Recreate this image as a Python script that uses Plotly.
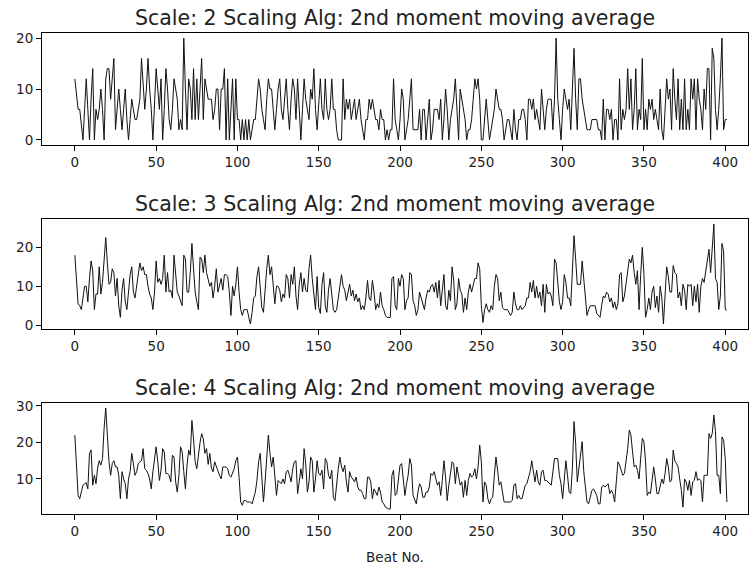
import plotly.graph_objects as go

# ---- data ----
scale2 = [
    12, 9, 6, 6, 3, 0, 6, 12, 6, 0,
    8, 14, 0, 6, 4, 6, 10, 6, 0, 12,
    14, 14, 8, 12, 16, 2, 6, 10, 6, 2,
    6, 10, 4, 0, 4, 8, 6, 4, 4, 6,
    8, 16, 10, 6, 10, 16, 10, 6, 0, 6,
    14, 10, 6, 12, 0, 6, 14, 10, 4, 2,
    6, 12, 10, 8, 2, 4, 2, 20, 10, 2,
    12, 10, 4, 14, 4, 12, 4, 10, 16, 4,
    12, 10, 8, 8, 8, 4, 6, 10, 10, 2,
    10, 10, 14, 0, 12, 0, 6, 12, 0, 12,
    4, 4, 0, 4, 0, 4, 0, 4, 0, 2,
    4, 4, 8, 12, 10, 6, 4, 2, 8, 12,
    10, 10, 6, 2, 6, 10, 12, 6, 4, 8,
    12, 6, 2, 8, 12, 10, 4, 12, 6, 0,
    6, 12, 8, 6, 4, 10, 8, 14, 6, 2,
    8, 12, 6, 4, 12, 6, 4, 6, 12, 6,
    6, 2, 0, 0, 0, 12, 4, 8, 6, 8,
    4, 6, 8, 4, 6, 8, 4, 2, 0, 4,
    4, 8, 6, 8, 6, 4, 4, 2, 6, 4,
    4, 0, 2, 0, 2, 2, 12, 4, 2, 0,
    4, 10, 8, 0, 2, 4, 8, 12, 2, 2,
    2, 2, 6, 0, 6, 6, 0, 4, 8, 0,
    2, 6, 6, 6, 4, 8, 0, 4, 10, 6,
    0, 4, 6, 8, 12, 6, 0, 10, 8, 6,
    4, 0, 2, 2, 4, 8, 12, 10, 12, 8,
    0, 0, 4, 8, 4, 0, 2, 4, 6, 10,
    8, 6, 6, 4, 0, 2, 4, 4, 2, 0,
    6, 2, 0, 4, 4, 6, 6, 4, 0, 8,
    8, 6, 8, 4, 6, 4, 2, 10, 6, 2,
    6, 8, 8, 8, 2, 8, 20, 8, 4, 0,
    6, 10, 8, 6, 8, 2, 10, 18, 8, 2,
    12, 12, 8, 6, 4, 2, 2, 2, 4, 4,
    4, 4, 2, 2, 0, 8, 0, 6, 6, 4,
    6, 0, 4, 4, 0, 12, 2, 6, 4, 6,
    14, 6, 12, 2, 6, 14, 2, 6, 4, 16,
    2, 6, 2, 8, 6, 8, 4, 6, 4, 2,
    10, 2, 0, 6, 12, 8, 10, 2, 14, 8,
    4, 12, 2, 8, 2, 12, 2, 6, 2, 12,
    8, 12, 2, 12, 8, 6, 2, 10, 6, 14,
    14, 0, 18, 16, 6, 2, 6, 12, 20, 2,
    4, 4,
]

scale3 = [
    18, 10, 5.5, 5, 4, 7, 10, 10, 6, 12,
    16.5, 14, 4, 8, 8, 15, 8, 11, 16, 22.5,
    16, 10.5, 11, 14.5, 13.5, 7.5, 12, 5, 2, 9,
    12, 6, 4, 8.5, 13, 15, 8.5, 7, 10.5, 13.5,
    16, 14, 15, 13, 13, 10, 8, 7, 4, 8.5,
    16.5, 11, 12, 10.5, 12, 18, 8.5, 13.5, 8.5, 9,
    7, 18, 13.5, 8.5, 7.5, 6, 5, 18, 17, 8.5,
    8.5, 13.5, 21, 14.5, 8.5, 6, 4, 17.5, 17, 13.5,
    18, 13.5, 12, 10, 11, 7, 10, 14.5, 8.5, 10.5,
    12, 9, 13, 13, 12.5, 8.5, 2.5, 10, 7.5, 10.5,
    15, 8.5, 4, 2.5, 4, 4, 4, 2, 0.3, 3.3,
    7, 7.5, 12.5, 15, 10, 4.5, 3.3, 10, 14.5, 18,
    13, 15, 10, 5.5, 10, 10, 9, 6, 8, 7,
    13, 12, 7, 13, 10.5, 15, 7.5, 4, 10.5, 13.5,
    8.5, 12, 9, 8.5, 14.5, 18, 12, 7, 4, 12.5,
    4.5, 3, 10.5, 13.5, 5, 3.3, 9, 12, 8.5, 4,
    3.3, 4, 7, 10, 13, 10, 9, 6.3, 8.5, 10.5,
    7.5, 9, 6.3, 8, 6, 7, 4, 5, 4, 7,
    11.5, 7, 6.3, 11.5, 8.5, 4, 5.5, 4.5, 8.5, 5,
    4, 2.5, 2, 2, 2, 12, 12.5, 5, 4, 12,
    10, 13, 12, 4, 6.3, 7, 13.5, 13, 6.3, 5,
    2.5, 4, 8.5, 7, 5.5, 4, 7, 9, 8.5, 10,
    10.5, 8.5, 11, 7, 11.5, 5, 9, 13, 5, 4,
    9, 6.3, 15, 11.5, 4, 5.5, 12, 9, 8, 3.3,
    7, 4, 8.5, 10.5, 8.5, 10, 12, 12, 16, 14.5,
    5, 0.7, 4, 5.5, 4, 3.3, 5, 4, 10, 13,
    12, 6.3, 8.5, 4.5, 4, 4, 4, 3.3, 2.5, 3.3,
    8.5, 5.5, 4, 4, 5, 4, 4.5, 5, 7, 7,
    11, 8.5, 11.5, 7, 10, 7, 8.5, 5, 10.5, 3.3,
    10.5, 8, 8.5, 7.5, 5, 17, 16, 10.5, 6, 4,
    6, 13, 11, 7, 7, 5, 13.5, 23, 17, 10.5,
    10.5, 10.5, 16.5, 12, 7, 2.5, 4, 5, 5, 5,
    5, 3, 2.5, 2, 5, 7.5, 7, 8.5, 8, 6,
    7, 4.5, 6, 4, 5.5, 13, 13.5, 6, 7.5, 10.5,
    13, 17, 16, 18, 13.5, 10.5, 14, 4, 13, 20,
    13, 2, 4, 7, 4, 8.5, 10, 4.5, 7.5, 3.3,
    10, 7, 0.3, 9, 15, 12.5, 8.5, 8.5, 15.3, 13.5,
    13, 7, 8.5, 5, 10.5, 9, 4, 10.5, 10, 10.5,
    5, 10, 6, 10.5, 3.3, 10, 12, 11, 14, 16,
    19.5, 13.5, 19, 26, 12, 11, 4, 7.5, 21, 19,
    4, 3.8,
]

scale4 = [
    22, 14.7, 5.5, 4.6, 6.4, 8.3, 8.7, 9, 7.3, 17,
    17.9, 8.3, 11, 8.7, 13, 15, 13.8, 15.6, 23.9, 29.4,
    22, 14.7, 11, 14.2, 15, 13.3, 13.3, 11, 4.6, 12,
    10, 8.7, 4.6, 10, 12, 17, 14.2, 11, 12, 14.2,
    14.7, 15, 18.3, 12.8, 12.4, 11.5, 10, 7.3, 12, 15.6,
    18.8, 14.7, 9.6, 12.4, 18.3, 17.4, 11.5, 11.5, 11, 9.2,
    16.5, 16, 9.2, 6.4, 11, 18.8, 17.4, 12, 7.3, 13.8,
    17.9, 16.5, 26, 21, 14.7, 12.8, 17.4, 20, 22.4, 21,
    17, 18.3, 14, 17, 13, 12, 14.7, 13.3, 12, 11,
    10, 13.3, 13.3, 13.3, 12.8, 11, 10.5, 11.5, 12.8, 15,
    16, 10.5, 3.7, 2.8, 4.1, 4.1, 3.7, 3.7, 3.7, 3.2,
    5, 6.4, 9.6, 14.7, 17, 9.2, 3.7, 9.2, 17.4, 22,
    17, 13.3, 16, 10, 5.5, 9.6, 9.2, 8.7, 10, 8.7,
    12, 12.4, 11, 9.2, 12.8, 14.7, 15, 6, 9.2, 12.8,
    10, 18.3, 14.2, 6.4, 9.2, 16, 15, 6.4, 10, 15,
    11.5, 11, 12.4, 7.3, 15.6, 14.7, 11, 10, 12.4, 5,
    4.1, 9.6, 12.8, 16, 13.3, 12, 13.8, 9.2, 6.4, 12,
    10.5, 10, 9.2, 10.5, 7.8, 6.9, 6.9, 6, 4.6, 4.6,
    10.5, 10.5, 9.2, 4.6, 7.3, 6.4, 5.5, 7.8, 6.4, 3.7,
    3.2, 2.3, 2, 1.8, 1.8, 11, 12.4, 5.5, 6, 9.2,
    13.8, 14.2, 10, 5.5, 8.7, 11, 15.6, 13.8, 5.5, 4.1,
    3.2, 6.4, 8.7, 7.8, 5, 5, 6.4, 6.4, 7.8, 11.5,
    11, 12, 10, 8.3, 9.2, 5.5, 9.6, 15, 10.5, 4.1,
    8.3, 11.5, 14.7, 14.2, 8.7, 13.3, 11, 8.3, 9.2, 5,
    9.6, 5.5, 9.6, 11.5, 10.5, 11, 12.8, 10, 13.3, 19.3,
    14.7, 3.7, 9.2, 8.3, 4.6, 3.2, 4.6, 5, 11, 16,
    12.4, 8.3, 9.2, 6.4, 3.7, 3.7, 3.7, 3.7, 3.7, 4.1,
    8.3, 8.7, 4.6, 5.5, 4.6, 4.6, 6.4, 8.3, 8.7, 10.5,
    12, 15, 11.5, 9.2, 12.4, 9.2, 8.3, 12, 12.4, 9.6,
    9.6, 9.2, 8.7, 8.3, 12, 15.6, 15.6, 15.6, 11, 8.7,
    4.6, 11, 15, 11, 6.4, 6, 12.8, 25.7, 19.7, 9.2,
    12.8, 16.5, 20.2, 12, 6.9, 3.7, 3.2, 5.5, 6.9, 7.3,
    6.4, 5.5, 3.2, 3.2, 7.8, 8.3, 7.8, 8.3, 8.7, 6,
    6.9, 6, 3.7, 9.2, 14.7, 13.8, 12.5, 11, 11.5, 14.7,
    18.3, 23.4, 22, 17.4, 13.3, 13.8, 12.4, 10, 16, 21.1,
    20.2, 14.7, 5.5, 6.4, 6, 9.6, 13.3, 10, 6, 6,
    7.8, 10, 8.7, 11.5, 15.6, 13.3, 9.2, 9.6, 17.9, 15,
    14.2, 13.3, 10, 6.9, 2.3, 10, 9.2, 6.9, 9.6, 5.5,
    9.2, 9.6, 12, 9.6, 10, 9.6, 3.7, 11, 11, 11,
    22.4, 21.1, 22.4, 27.5, 22.9, 11, 11, 6, 21.5, 20.6,
    15.6, 3.7,
]

scales = [2, 3, 4]
series = [scale2, scale3, scale4]
y_ticks = [[0, 10, 20], [0, 10, 20], [10, 20, 30]]
x_ticks = [0, 50, 100, 150, 200, 250, 300, 350, 400]
x_label = "Beat No."
title_fmt = "Scale: {} Scaling Alg: 2nd moment moving average"

# ---- layout geometry (page pixels; body margin removed below) ----
W, H = 756, 570
left_px, right_px = 42, 748
panels_px = [(33, 145), (219, 329), (403, 514)]  # top, bottom in page px
ML = left_px
MR = W - right_px
MT = panels_px[0][0]
MB = H - panels_px[-1][1]
plot_h = H - MT - MB


def dom(top, bot):
    return [(H - MB - bot) / plot_h, (H - MB - top) / plot_h]


FONT = "DejaVu Sans"
fig = go.Figure()

xr = [-20.2, 414]

for i, (sc, vals) in enumerate(zip(scales, series)):
    k = "" if i == 0 else str(i + 1)
    beats = list(range(len(vals)))
    fig.add_trace(go.Scatter(
        x=beats, y=vals, mode="lines",
        line=dict(color="#111111", width=1),
        xaxis="x" + k, yaxis="y" + k, showlegend=False,
        hoverinfo="skip",
    ))
    lo, hi = min(vals), max(vals)
    m = 0.05 * (hi - lo)
    d = dom(*panels_px[i])
    axis_common = dict(
        showline=True, mirror=True, linecolor="black", linewidth=1,
        ticks="outside", ticklen=5, tickwidth=1, tickcolor="black",
        showgrid=False, zeroline=False, automargin=False,
        tickfont=dict(family=FONT, size=13.5, color="#222222"),
    )
    fig.update_layout(**{
        "xaxis" + k: dict(domain=[0, 1], range=xr, anchor="y" + k,
                          tickvals=x_ticks, **axis_common),
        "yaxis" + k: dict(domain=d, range=[lo - m, hi + m], anchor="x" + k,
                          tickvals=y_ticks[i], **axis_common),
    })
    fig.add_annotation(
        text=title_fmt.format(sc), xref="paper", yref="paper",
        x=0.5, y=d[1], xanchor="center", yanchor="bottom", yshift=1,
        showarrow=False, font=dict(family=FONT, size=20.5, color="#222222"),
    )

fig.update_layout(
    xaxis3_title=dict(text=x_label, standoff=14,
                      font=dict(family=FONT, size=13.5, color="#222222")),
)

fig.update_layout(
    width=W, height=H,
    margin=dict(l=ML, r=MR, t=MT, b=MB, pad=0),
    paper_bgcolor="white", plot_bgcolor="white",
    font=dict(family=FONT),
)

fig.write_html("out.html",
               config={"displayModeBar": False},
               post_script="document.body.style.margin='0px';")
